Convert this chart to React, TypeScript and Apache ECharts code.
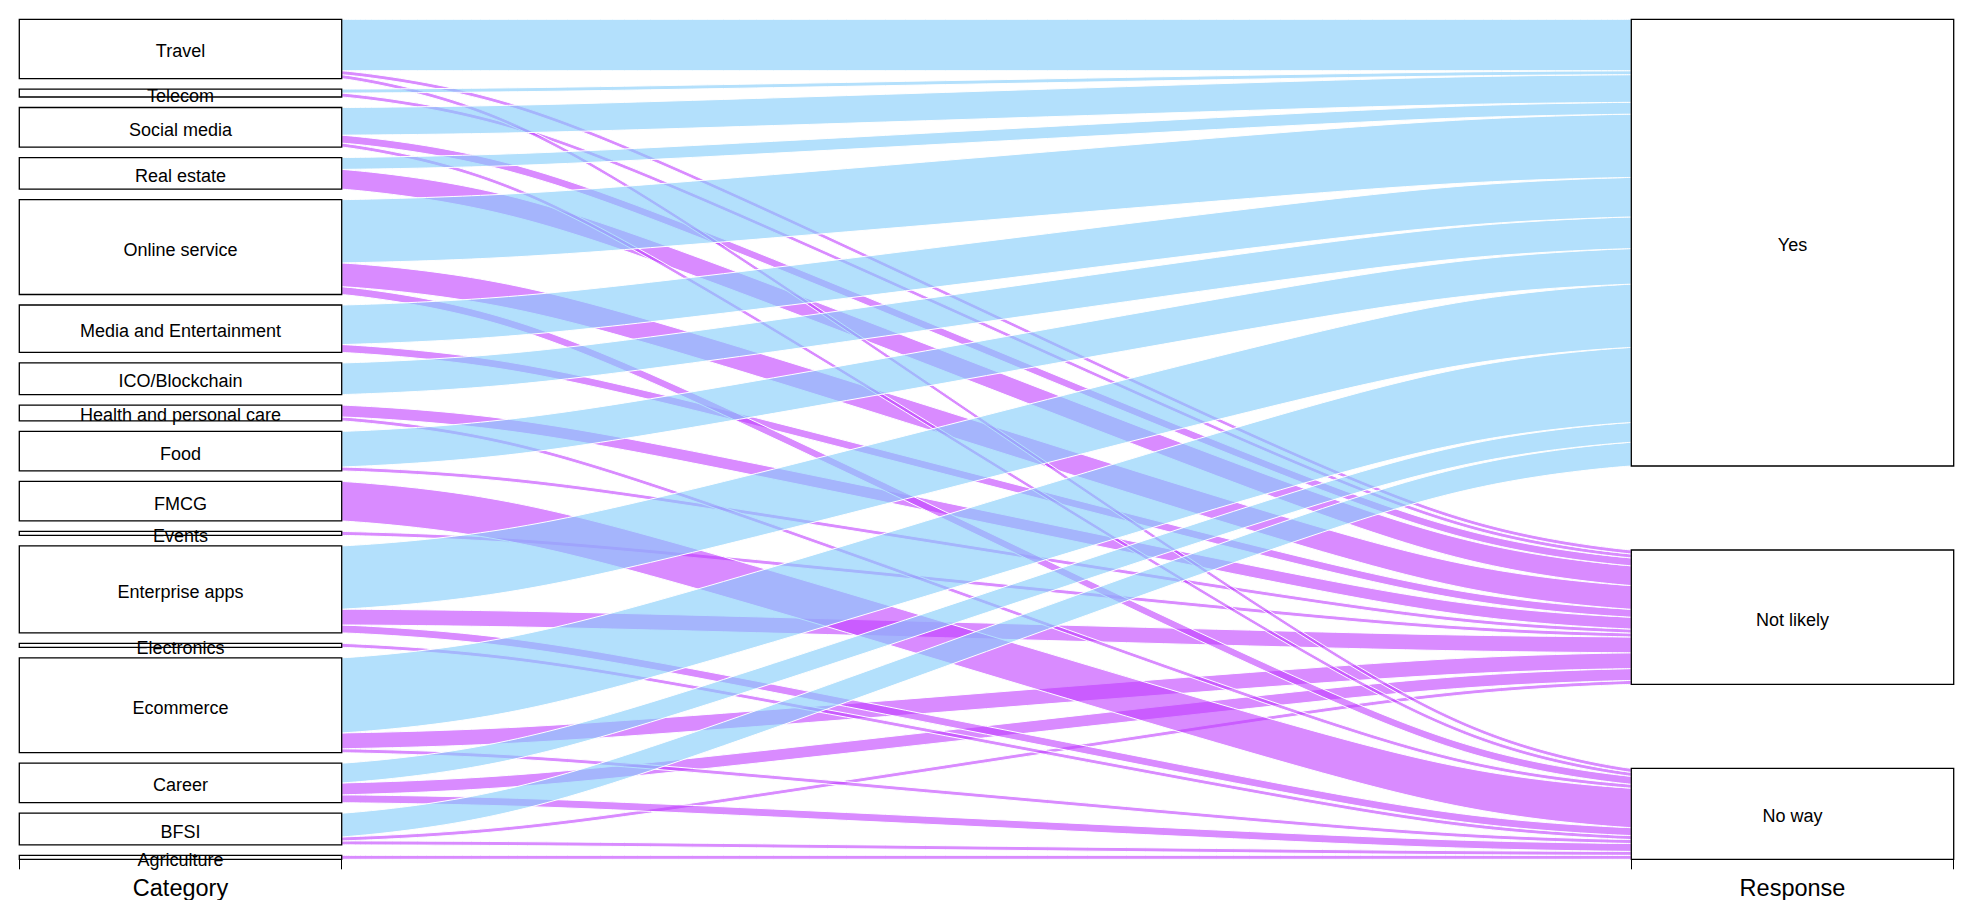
import React, { useEffect, useRef } from "react";
import * as echarts from "echarts";

// Factor levels, bottom-up (alphabetical, as plotted by the alluvial layout)
const categories = [
  "Agriculture",
  "BFSI",
  "Career",
  "Ecommerce",
  "Electronics",
  "Enterprise apps",
  "Events",
  "FMCG",
  "Food",
  "Health and personal care",
  "ICO/Blockchain",
  "Media and Entertainment",
  "Online service",
  "Real estate",
  "Social media",
  "Telecom",
  "Travel",
];
const responses = ["No way", "Not likely", "Yes"];

// Counts per category (same order as categories)
const yesCounts = [0, 6, 5, 19, 0, 16, 0, 0, 9, 0, 8, 10, 16, 3, 7, 1, 13];
const notLikelyCounts = [0, 1, 3, 4, 0, 4, 1, 0, 1, 3, 0, 2, 6, 5, 2, 1, 1];
const noWayCounts = [1, 1, 2, 1, 1, 2, 0, 10, 0, 1, 0, 0, 2, 0, 1, 0, 1];

const axisNames = ["Category", "Response"];

const GAP = 0.2;
const CW = 0.1;
const XW = 0.1;
const FONT = "Liberation Sans, Arial, sans-serif";

type Row = { c: number; r: number; n: number };
const countsByResp = [noWayCounts, notLikelyCounts, yesCounts];
const rows: Row[] = [];
categories.forEach((_, c) =>
  responses.forEach((__, r) => {
    const n = countsByResp[r][c];
    if (n > 0) rows.push({ c, r, n });
  })
);
const total = rows.reduce((s, d) => s + d.n, 0);

function stack(keyA: "c" | "r", keyB: "c" | "r"): [number, number][] {
  const order = rows
    .map((_, i) => i)
    .sort((i, j) => rows[i][keyA] - rows[j][keyA] || rows[i][keyB] - rows[j][keyB]);
  const levels = new Set(rows.map((d) => d[keyA])).size;
  const gapStep = GAP / Math.max(1, levels - 1);
  const out: [number, number][] = new Array(rows.length);
  let cum = 0;
  let g = 0;
  let prev = -1;
  order.forEach((i, k) => {
    if (k > 0 && rows[i][keyA] !== prev) g++;
    prev = rows[i][keyA];
    const y0 = (cum / total) * (1 - GAP) + g * gapStep;
    cum += rows[i].n;
    const y1 = (cum / total) * (1 - GAP) + g * gapStep;
    out[i] = [y0, y1];
  });
  return out;
}
const leftY = stack("c", "r");
const rightY = stack("r", "c");

type Box = { axis: number; label: string; y0: number; y1: number };
const boxes: Box[] = [];
categories.forEach((label, c) => {
  const idx = rows.map((d, i) => (d.c === c ? i : -1)).filter((i) => i >= 0);
  if (!idx.length) return;
  boxes.push({
    axis: 1,
    label,
    y0: Math.min(...idx.map((i) => leftY[i][0])),
    y1: Math.max(...idx.map((i) => leftY[i][1])),
  });
});
responses.forEach((label, r) => {
  const idx = rows.map((d, i) => (d.r === r ? i : -1)).filter((i) => i >= 0);
  if (!idx.length) return;
  boxes.push({
    axis: 2,
    label,
    y0: Math.min(...idx.map((i) => rightY[i][0])),
    y1: Math.max(...idx.map((i) => rightY[i][1])),
  });
});

// draw purple stripes first, blue (Yes) on top
const drawOrder = [
  ...rows.map((d, i) => (d.r !== 2 ? i : -1)).filter((i) => i >= 0),
  ...rows.map((d, i) => (d.r === 2 ? i : -1)).filter((i) => i >= 0),
];

// X-spline (closed), as used by R's xspline()
function fBlend(num: number, den: number) {
  const p = 2 * den * den;
  const u = num / den;
  return u * u * u * (10 - p + (2 * p - 15) * u + (6 - p) * u * u);
}
function xsplineClosed(px: number[], py: number[], s: number[], steps: number) {
  const n = px.length;
  const out: number[][] = [];
  for (let k = 0; k < n; k++) {
    const i0 = (k - 1 + n) % n;
    const i1 = k;
    const i2 = (k + 1) % n;
    const i3 = (k + 2) % n;
    const s1 = s[i1];
    const s2 = s[i2];
    for (let st = 0; st < steps; st++) {
      const t = st / steps;
      const A0 = t < s1 ? fBlend(t - s1, -1 - s1) : 0;
      const A2 = fBlend(t + s1, 1 + s1);
      const A1 = fBlend(t - 1 - s2, -1 - s2);
      const A3 = t > 1 - s2 ? fBlend(t - 1 + s2, 1 + s2) : 0;
      const w = A0 + A1 + A2 + A3;
      out.push([
        (A0 * px[i0] + A1 * px[i1] + A2 * px[i2] + A3 * px[i3]) / w,
        (A0 * py[i0] + A1 * py[i1] + A2 * py[i2] + A3 * py[i3]) / w,
      ]);
    }
  }
  return out;
}

const COLOR_YES = "rgba(135,206,250,0.63)";
const COLOR_NO = "rgba(191,62,255,0.6)";

export default function App() {
  const ref = useRef<HTMLDivElement>(null);
  useEffect(() => {
    if (!ref.current) return;
    const chart = echarts.init(ref.current, undefined, { renderer: "svg" });
    chart.setOption({
      animation: false,
      backgroundColor: "#ffffff",
      textStyle: { fontFamily: FONT },
      grid: { left: 19.3, right: 19.3, top: 19.3, bottom: 39 },
      xAxis: {
        type: "value",
        min: 0.9,
        max: 2.1,
        offset: 9.7,
        axisLine: { show: false },
        splitLine: { show: false },
        axisTick: {
          show: true,
          length: 10,
          customValues: [1 - CW, 1 + CW, 2 - CW, 2 + CW],
          lineStyle: { color: "#000", width: 1 },
        },
        axisLabel: {
          show: true,
          customValues: [1, 2],
          formatter: (v: number) => axisNames[Math.round(v) - 1],
          fontSize: 23.5,
          fontFamily: FONT,
          color: "#000",
          margin: 7,
        },
      },
      yAxis: { type: "value", min: 0, max: 1, show: false },
      series: [
        {
          type: "custom",
          silent: true,
          clip: false,
          z: 1,
          data: drawOrder.map((i) => [i]),
          renderItem: (_params: any, api: any) => {
            const i = api.value(0) as number;
            const [lb, lt] = leftY[i];
            const [rb, rt] = rightY[i];
            const j = 1;
            const xs = [j, j, j + XW, j + 1 - XW, j + 1, j + 1, j + 1 - XW, j + XW, j].map(
              (x, k) => x + (k < 3 ? CW : k < 7 ? -CW : CW)
            );
            const ys = [lb, lt, lt, rt, rt, rb, rb, lb, lb];
            const shapes = [0, 0, 1, 1, 0, 0, 1, 1, 0];
            const pix = xs.map((x, k) => api.coord([x, ys[k]]));
            const pts = xsplineClosed(
              pix.map((p: number[]) => p[0]),
              pix.map((p: number[]) => p[1]),
              shapes,
              40
            );
            return {
              type: "polygon",
              shape: { points: pts },
              style: {
                fill: rows[i].r === 2 ? COLOR_YES : COLOR_NO,
                stroke: "#ffffff",
                lineWidth: 1,
              },
            };
          },
        },
        {
          type: "custom",
          silent: true,
          clip: false,
          z: 5,
          data: boxes.map((_, i) => [i]),
          renderItem: (_params: any, api: any) => {
            const b = boxes[api.value(0) as number];
            const p0 = api.coord([b.axis - CW, b.y1]);
            const p1 = api.coord([b.axis + CW, b.y0]);
            return {
              type: "group",
              children: [
                {
                  type: "rect",
                  shape: { x: p0[0], y: p0[1], width: p1[0] - p0[0], height: p1[1] - p0[1] },
                  style: { fill: "#ffffff", stroke: "#000000", lineWidth: 1.3 },
                },
                {
                  type: "text",
                  style: {
                    text: b.label,
                    x: (p0[0] + p1[0]) / 2,
                    y: (p0[1] + p1[1]) / 2 + 2.5,
                    align: "center",
                    verticalAlign: "middle",
                    fontSize: 18,
                    fontFamily: FONT,
                    fill: "#000000",
                  },
                },
              ],
            };
          },
        },
      ],
    });
    return () => chart.dispose();
  }, []);
  return (
    <div
      ref={ref}
      style={{ position: "fixed", left: 0, top: 0, width: 1973, height: 900, background: "#fff" }}
    />
  );
}
